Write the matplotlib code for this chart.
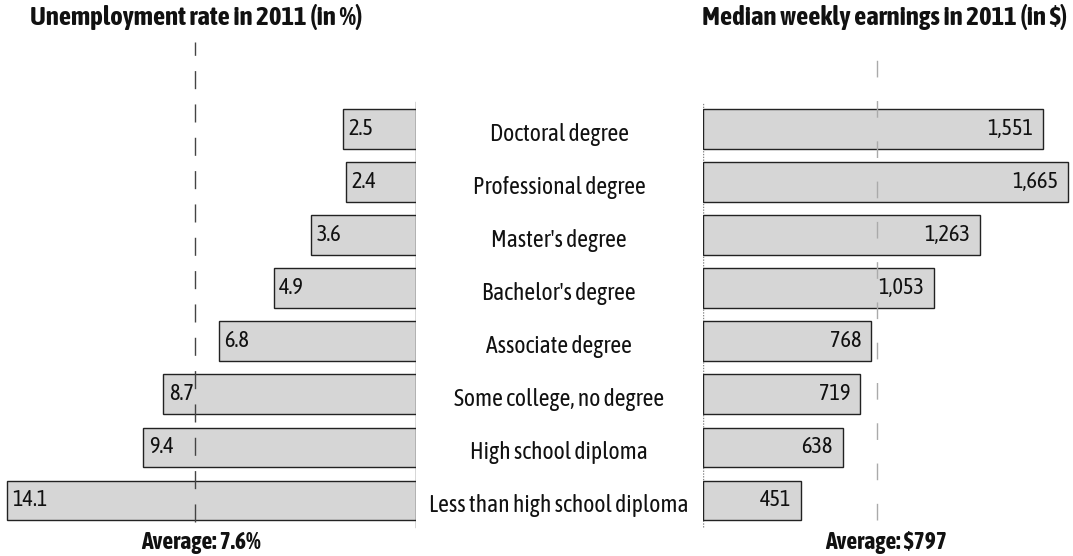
import os
import matplotlib
matplotlib.use("Agg")
import matplotlib.pyplot as plt
from matplotlib.font_manager import FontProperties

categories = ["Doctoral degree", "Professional degree", "Master's degree",
              "Bachelor's degree", "Associate degree", "Some college, no degree",
              "High school diploma", "Less than high school diploma"]
unemployment = [2.5, 2.4, 3.6, 4.9, 6.8, 8.7, 9.4, 14.1]
unemp_labels = ["2.5", "2.4", "3.6", "4.9", "6.8", "8.7", "9.4", "14.1"]
earnings = [1551, 1665, 1263, 1053, 768, 719, 638, 451]
earn_labels = ["1,551", "1,665", "1,263", "1,053", "768", "719", "638", "451"]
avg_unemp = 7.6
avg_earn = 797
title_left = "Unemployment rate in 2011 (in %)"
title_right = "Median weekly earnings in 2011 (in $)"
avg_unemp_label = "Average: 7.6%"
avg_earn_label = "Average: $797"

gdir = "/usr/share/fonts/truetype/google-fonts/"
ddir = "/usr/share/fonts/truetype/dejavu/"

def pick(*paths):
    for p in paths:
        if os.path.exists(p):
            return p
    return None

reg_path = pick(gdir + "AsapCondensed-Regular.ttf", ddir + "DejaVuSansCondensed.ttf")
bold_path = pick(gdir + "AsapCondensed-Bold.ttf", ddir + "DejaVuSansCondensed-Bold.ttf")

def fp(path, size):
    if path:
        return FontProperties(fname=path, size=size)
    return FontProperties(family="DejaVu Sans", size=size)

W, H = 1073, 556
fig = plt.figure(figsize=(W / 100, H / 100), dpi=100)

def fx(px):
    return px / W

def fy(py):
    return 1 - py / H

top_px, bot_px = 40, 530
ax_bottom = fy(bot_px)
ax_height = (bot_px - top_px) / H
row0, step = 129, 53.07
ylim = ((bot_px - row0) / step, (top_px - row0) / step)

def yfrac(py):
    return (bot_px - py) / (bot_px - top_px)

face = "#d6d6d6"
edge = "#222222"
bh = 0.75
ys = list(range(len(categories)))

# Left axes (unemployment), bars grow leftwards from x=415.6px
left_edge_px = 415.6
axL = fig.add_axes([0, ax_bottom, fx(left_edge_px), ax_height])
axL.barh(ys, unemployment, height=bh, color=face, edgecolor=edge, linewidth=1.0, zorder=2)
axL.set_xlim(left_edge_px / 28.98, 0)
axL.set_ylim(*ylim)
for y, v, lab in zip(ys, unemployment, unemp_labels):
    axL.annotate(lab, (v, y), xytext=(4, 0), textcoords="offset points",
                 ha="left", va="center", color="#111",
                 fontproperties=fp(reg_path, 16), zorder=5)
axL.axvline(avg_unemp, ymin=yfrac(522), ymax=yfrac(42),
            color="#444", lw=1, ls=(0, (13, 11)), zorder=4)
axL.axvline(0, ymin=yfrac(527), ymax=yfrac(102), color="#333", lw=1.0, zorder=1)
axL.axis("off")

# Right axes (earnings), bars grow rightwards from x=702.5px
right_base_px = 702.5
axR = fig.add_axes([fx(right_base_px), ax_bottom, fx(W - right_base_px), ax_height])
axR.barh(ys, earnings, height=bh, color=face, edgecolor=edge, linewidth=1.0, zorder=2)
axR.set_xlim(0, (W - right_base_px) / 0.2195)
axR.set_ylim(*ylim)
for y, v, lab in zip(ys, earnings, earn_labels):
    axR.annotate(lab, (v, y), xytext=(-7, 0), textcoords="offset points",
                 ha="right", va="center", color="#111",
                 fontproperties=fp(reg_path, 16), zorder=5)
axR.axvline(avg_earn, ymin=yfrac(520), ymax=yfrac(40),
            color="#aaa", lw=1, ls=(0, (12, 17)), zorder=4)
axR.axvline(0, ymin=yfrac(527), ymax=yfrac(102), color="#888", lw=1.0,
            ls=(0, (1, 1)), zorder=1)
axR.axis("off")

# Category labels in the middle
for i, c in enumerate(categories):
    fig.text(fx(559), fy(row0 + step * i + 5), c, ha="center", va="center",
             color="#111", fontproperties=fp(reg_path, 17))

# Titles
fig.text(fx(30), fy(17), title_left, ha="left", va="center",
         color="#111", fontproperties=fp(bold_path, 19.3))
fig.text(fx(1067), fy(17), title_right, ha="right", va="center",
         color="#111", fontproperties=fp(bold_path, 19.3))

# Average labels
fig.text(fx(201), fy(542), avg_unemp_label, ha="center", va="center",
         color="#111", fontproperties=fp(bold_path, 17))
fig.text(fx(886), fy(542), avg_earn_label, ha="center", va="center",
         color="#111", fontproperties=fp(bold_path, 17))

fig.savefig("out.png", dpi=100, facecolor="white")
